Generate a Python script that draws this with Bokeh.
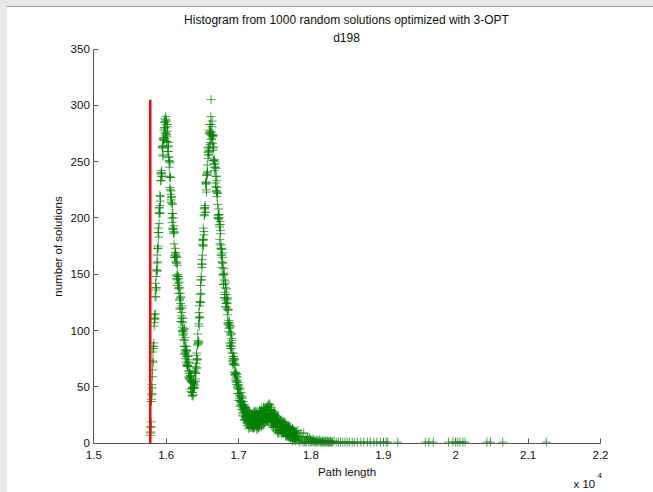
from bokeh.plotting import figure
from bokeh.models import Range1d, FixedTicker, Label
from bokeh.embed import file_html
from bokeh.resources import INLINE

# ---------------- data ----------------
title_line1 = "Histogram from 1000 random solutions optimized with 3-OPT"
title_line2 = "d198"
x_label = "Path length"
y_label = "number of solutions"

optimum_length = 15780  # known optimum of d198 (red line)

# histogram: four interleaved strands of bins,
# each with a bin step of 10 path-length units
bin_step = 10
strand_a_start = 15780
strand_b_start = 15785
strand_c_start = 15782
strand_d_start = 15787
counts_a = [
    7, 15, 43, 59, 86, 89, 111, 115, 148, 153,
    173, 173, 204, 205, 215, 239, 237, 263, 270, 271,
    288, 273, 283, 272, 281, 254, 251, 227, 236, 216,
    213, 191, 200, 177, 165, 169, 149, 160, 150, 137,
    143, 119, 124, 111, 120, 96, 97, 79, 94, 80,
    82, 68, 77, 64, 58, 62, 48, 55, 49, 43,
    55, 49, 62, 62, 80, 75, 91, 90, 122, 125,
    145, 145, 176, 176, 185, 208, 205, 231, 238, 241,
    263, 256, 275, 274, 305, 270, 272, 251, 263, 245,
    245, 224, 233, 212, 200, 203, 181, 189, 176, 161,
    165, 141, 145, 132, 142, 121, 124, 106, 119, 102,
    103, 84, 97, 80, 73, 77, 63, 70, 63, 54,
    59, 44, 48, 40, 48, 34, 37, 25, 37, 29,
    32, 20, 32, 22, 18, 25, 15, 25, 22, 16,
    25, 14, 22, 17, 28, 16, 21, 12, 26, 20,
    26, 16, 24, 20, 31, 20, 25, 17, 31, 24,
    31, 20, 28, 23, 35, 22, 26, 16, 29, 21,
    25, 15, 27, 17, 14, 21, 10, 21, 17, 12,
    20, 9, 15, 12, 18, 10, 12, 6, 15, 10,
    13, 6, 15, 7, 5, 11, 3, 11, 9, 4,
    10, 2, 7, 4, 11, 2, 5, 1, 9, 3,
    6, 1, 9, 2, 1, 5, 1, 6, 4, 1,
    5, 1,
    3, 1, 2, 4, 1, 2, 1, 3, 1, 2,
    2, 1, 3, 1, 1, 2, 1, 2, 1, 1,
    2, 1, 1, 2, 1, 1, 1, 2, 1, 1, 1,
]
counts_b = [
    9, 37, 44, 73, 84, 114, 111, 136, 138, 167,
    175, 183, 209, 204, 233, 240, 262, 256, 269, 285,
    276, 290, 268, 277, 263, 267, 237, 236, 214, 219,
    204, 190, 193, 165, 173, 161, 166, 145, 142, 146,
    127, 133, 108, 116, 103, 111, 86, 91, 75, 86,
    77, 69, 74, 57, 64, 56, 60, 45, 45, 53,
    49, 64, 55, 71, 74, 97, 89, 111, 112, 140,
    148, 156, 181, 175, 203, 209, 230, 225, 238, 258,
    256, 278, 265, 283, 276, 286, 260, 262, 242, 250,
    237, 224, 227, 200, 208, 194, 197, 173, 167, 169,
    149, 155, 129, 138, 127, 137, 114, 118, 99, 107,
    96, 86, 93, 70, 80, 71, 75, 60, 58, 61,
    49, 54, 38, 44, 38, 45, 30, 34, 24, 33,
    28, 23, 30, 16, 26, 21, 29, 17, 18, 25,
    17, 26, 13, 23, 19, 28, 15, 22, 14, 25,
    22, 19, 28, 15, 27, 23, 32, 21, 23, 30,
    22, 32, 19, 29, 25, 34, 20, 26, 16, 26,
    22, 18, 25, 11, 22, 17, 24, 12, 14, 20,
    12, 19, 9, 16, 12, 19, 9, 13, 7, 14,
    11, 8, 14, 4, 12, 8, 13, 5, 6, 11,
    5, 11,
]
counts_c = [
    10, 19, 52, 65, 72, 104, 110, 142, 138, 160,
    161, 191, 195, 220, 219, 240, 237, 264, 271, 269,
    285, 275, 286, 274, 259, 264, 245, 249, 221, 218,
    196, 204, 186, 187, 165, 167, 146, 158, 148, 133,
    138, 120, 130, 113, 99, 107, 92, 102, 80, 83,
    70, 78, 68, 72, 58, 60, 46, 54, 49, 42,
    54, 51, 68, 66, 67, 87, 89, 116, 112, 132,
    133, 163, 167, 191, 188, 209, 205, 232, 239, 240,
    262, 259, 283, 277, 270, 281, 266, 273, 248, 248,
    228, 237, 219, 222, 199, 200, 177, 186, 173, 156,
    160, 141, 151, 134, 121, 132, 119, 129, 105, 105,
    87, 98, 84, 91, 73, 75, 61, 69, 62, 52,
    56, 44, 52, 42, 33, 42, 33, 41, 27, 31,
    21, 31, 23, 30, 19, 24, 13, 25, 22, 14,
    23, 15, 27, 19, 14, 24, 18, 28, 17, 22,
    14, 27, 21, 29, 19, 26, 16, 29, 26, 20,
    29, 21, 33, 26, 21, 30, 23, 32, 19, 23,
    14, 26, 18, 25, 15, 20, 9, 20, 17, 10,
    18, 11, 19, 13, 9, 16, 11, 18, 9, 12,
    6, 14, 9, 14, 6, 10, 2, 11, 8, 3,
    9, 3,
]
counts_d = [
    14, 39, 49, 81, 86, 107, 130, 130, 154, 153,
    187, 187, 209, 211, 233, 242, 263, 255, 278, 280,
    280, 287, 268, 283, 259, 254, 250, 225, 224, 200,
    212, 190, 188, 167, 169, 160, 165, 140, 148, 138,
    128, 129, 108, 122, 100, 99, 101, 82, 86, 72,
    82, 69, 71, 59, 62, 56, 59, 42, 50, 49,
    52, 63, 57, 78, 74, 88, 106, 104, 126, 125,
    159, 159, 180, 181, 202, 211, 231, 223, 247, 253,
    260, 276, 267, 290, 273, 274, 273, 251, 252, 231,
    244, 223, 222, 202, 203, 192, 194, 167, 172, 160,
    150, 150, 129, 144, 124, 125, 128, 107, 109, 89,
    104, 86, 89, 75, 77, 71, 74, 56, 62, 55,
    50, 51, 38, 49, 36, 37, 40, 27, 32, 21,
    34, 23, 28, 18, 24, 21, 28, 14, 23, 20,
    19, 24, 14, 28, 17, 21, 26, 16, 23, 13,
    29, 20, 26, 18, 25, 23, 31, 18, 28, 26,
    25, 30, 20, 34, 24, 26, 30, 19, 24, 14,
    28, 18, 23, 14, 20, 17, 23, 9, 19, 15,
    14, 17, 10, 19, 11, 13, 16, 8, 13, 6,
    15, 9, 12, 6, 10, 8, 13, 3, 9, 7,
    6, 9,
]
lengths_a = [strand_a_start + bin_step * i for i in range(len(counts_a))]
lengths_b = [strand_b_start + bin_step * i for i in range(len(counts_b))]
lengths_c = [strand_c_start + bin_step * i for i in range(len(counts_c))]
lengths_d = [strand_d_start + bin_step * i for i in range(len(counts_d))]

# sparse tail (single solutions)
tail_lengths = [18320, 18350, 18380, 18410, 18440, 18470, 18500, 18530, 18570,
                18600, 18640, 18690, 18730, 18780, 18820, 18870, 18910, 18960,
                19000, 19040, 19060, 19200, 19580, 19630, 19690, 19900, 19960,
                20000, 20030, 20060, 20100, 20130, 20430, 20480, 20650, 21250]
tail_counts = [2, 1, 1, 1, 1, 1, 1, 1, 1,
               1, 1, 1, 1, 1, 1, 1, 1, 1,
               1, 1, 1, 1, 1, 1, 1, 1, 1,
               1, 1, 1, 1, 1, 1, 1, 1, 1]

x_ticks = [15000, 16000, 17000, 18000, 19000, 20000, 21000, 22000]
x_tick_labels = ["1.5", "1.6", "1.7", "1.8", "1.9", "2", "2.1", "2.2"]
y_ticks = [0, 50, 100, 150, 200, 250, 300, 350]
x_min, x_max = 15000, 22000
y_min, y_max = 0, 350
x_exponent_base = "x 10"
x_exponent = "4"

# ---------------- layout (pixels inside the figure) ----------------
W, H = 645, 485
PL, PR, PT, PB = 85.3, 592.0, 41.5, 435.7   # axes box edges
xs = (x_max - x_min) / (PR - PL)
ys = (y_max - y_min) / (PB - PT)

FONT = "Liberation Sans"
TXT = "#111111"
AX = "#555555"
GREEN = "#008000"

p = figure(width=W, height=H, output_backend="svg", toolbar_location=None,
           x_range=Range1d(x_min - PL * xs, x_max + (W - PR) * xs),
           y_range=Range1d(y_min - (H - PB) * ys, y_max + PT * ys),
           min_border_left=0, min_border_right=0,
           min_border_top=0, min_border_bottom=0,
           background_fill_color="white", border_fill_color="white")
p.outline_line_color = None
p.grid.visible = False

xa, ya = p.xaxis[0], p.yaxis[0]
xa.fixed_location = y_min
xa.bounds = (x_min, x_max)
ya.fixed_location = x_min
ya.bounds = (y_min, y_max)

for ax in (xa, ya):
    ax.axis_line_color = AX
    ax.major_tick_line_color = AX
    ax.major_tick_in = 5
    ax.major_tick_out = 0
    ax.minor_tick_line_color = None
    ax.major_label_text_font = FONT
    ax.major_label_text_font_size = "11.5px"
    ax.major_label_text_color = TXT
    ax.axis_label_text_font = FONT
    ax.axis_label_text_font_size = "11.5px"
    ax.axis_label_text_font_style = "normal"
    ax.axis_label_text_color = TXT

xa.ticker = FixedTicker(ticks=x_ticks)
xa.major_label_overrides = {t: l for t, l in zip(x_ticks, x_tick_labels)}
xa.major_label_standoff = 8
xa.axis_label = x_label
xa.axis_label_standoff = 3

ya.ticker = FixedTicker(ticks=y_ticks)
ya.major_label_standoff = 4
ya.axis_label = y_label
ya.axis_label_standoff = 3

# histogram markers
series = ((lengths_a, counts_a), (lengths_b, counts_b), (lengths_c, counts_c),
          (lengths_d, counts_d), (tail_lengths, tail_counts))
for xv, yv in series:
    p.scatter(xv, yv, marker="cross", size=9, line_color=GREEN,
              line_alpha=0.7, line_width=1)

# optimum line
all_counts = counts_a + counts_b + counts_c + counts_d
p.segment(x0=[optimum_length], y0=[0], x1=[optimum_length],
          y1=[max(all_counts)], line_color="#ff0000", line_width=2.5)

# titles and exponent (screen px from the figure's bottom-left)
p.add_layout(Label(x=338, y=473, x_units="screen", y_units="screen",
                   text=title_line1, text_align="center", text_baseline="middle",
                   text_font=FONT, text_font_size="12px", text_color=TXT))
p.add_layout(Label(x=338, y=455, x_units="screen", y_units="screen",
                   text=title_line2, text_align="center", text_baseline="middle",
                   text_font=FONT, text_font_size="12px", text_color=TXT))
p.add_layout(Label(x=565, y=9, x_units="screen", y_units="screen",
                   text=x_exponent_base, text_align="left", text_baseline="alphabetic",
                   text_font=FONT, text_font_size="11.5px", text_color=TXT))
p.add_layout(Label(x=589, y=17, x_units="screen", y_units="screen",
                   text=x_exponent, text_align="left", text_baseline="alphabetic",
                   text_font=FONT, text_font_size="8px", text_color=TXT))

html = file_html(p, INLINE)
css = ("<style>html,body{overflow:hidden;}"
       "body{padding:7px 0 0 8px !important;box-sizing:border-box;background:"
       "linear-gradient(#e8e8e8,#e8e8e8) 0 0/100% 6px no-repeat,"
       "linear-gradient(#9c9c9c,#9c9c9c) 7px 6px/100% 1px no-repeat,"
       "linear-gradient(#e8e8e8,#e8e8e8) 0 0/7px 100% no-repeat,#ffffff;}</style>")
html = html.replace("</head>", css + "</head>", 1)
open("out.html", "w").write(html)
